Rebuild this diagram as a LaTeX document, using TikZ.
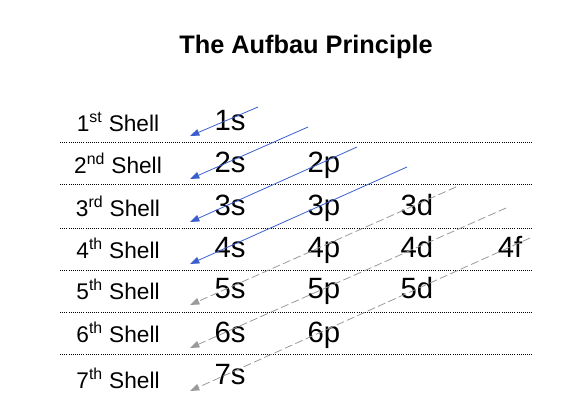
\documentclass[tikz,border=0pt]{standalone}
\usepackage{fontspec}
\setmainfont{Liberation Sans}
\usetikzlibrary{arrows.meta}
\definecolor{fillblue}{HTML}{3A5FCD}
\definecolor{fillgray}{HTML}{9A9A9A}
\begin{document}
\begin{tikzpicture}[
      x=0.75pt,
      y=-0.75pt,
      shell/.style={anchor=base, font=\fontsize{17}{20}\selectfont},
      orb/.style={anchor=base, font=\fontsize{22}{26}\selectfont},
      sep/.style={densely dotted, line width=0.6pt},
      fillarrow/.style={fillblue, line width=0.6pt, -{Triangle[length=7pt,width=5pt]}},
      emptyarrow/.style={fillgray, line width=0.6pt, dash pattern=on 6pt off 2.5pt, -{Triangle[length=7pt,width=5pt]}}]
    \useasboundingbox (0,0) rectangle (579,408);

    \node [font=\bfseries\fontsize{19}{23}\selectfont] (title) at (306,47) {The Aufbau Principle};

    \node [shell] (shell1) at (118,131) {1\textsuperscript{st} Shell};
    \node [shell] (shell2) at (118,173) {2\textsuperscript{nd} Shell};
    \node [shell] (shell3) at (118,216) {3\textsuperscript{rd} Shell};
    \node [shell] (shell4) at (118,258) {4\textsuperscript{th} Shell};
    \node [shell] (shell5) at (118,299) {5\textsuperscript{th} Shell};
    \node [shell] (shell6) at (118,342) {6\textsuperscript{th} Shell};
    \node [shell] (shell7) at (118,388) {7\textsuperscript{th} Shell};

    \node [orb] (o1s) at (230,130) {1s};
    \node [orb] (o2s) at (230,172) {2s};
    \node [orb] (o2p) at (324,172) {2p};
    \node [orb] (o3s) at (230,215) {3s};
    \node [orb] (o3p) at (324,215) {3p};
    \node [orb] (o3d) at (417,215) {3d};
    \node [orb] (o4s) at (230,257) {4s};
    \node [orb] (o4p) at (324,257) {4p};
    \node [orb] (o4d) at (417,257) {4d};
    \node [orb] (o4f) at (510,257) {4f};
    \node [orb] (o5s) at (230,298) {5s};
    \node [orb] (o5p) at (324,298) {5p};
    \node [orb] (o5d) at (417,298) {5d};
    \node [orb] (o6s) at (230,342) {6s};
    \node [orb] (o6p) at (324,342) {6p};
    \node [orb] (o7s) at (230,384) {7s};

    \foreach \y in {142,184,228,270,312,354}
      \draw [sep] (60,\y) -- (533,\y);

    % filling order
    \coordinate (from1) at (258,107);  \coordinate (to1) at (190,136);
    \coordinate (from2) at (308,127);  \coordinate (to2) at (190,179);
    \coordinate (from3) at (357,147);  \coordinate (to3) at (190,222);
    \coordinate (from4) at (407,167);  \coordinate (to4) at (190,264);
    \coordinate (from5) at (456,187);  \coordinate (to5) at (190,305);
    \coordinate (from6) at (506,208);  \coordinate (to6) at (190,348);
    \coordinate (from7) at (530,238);  \coordinate (to7) at (190,391);

    \draw [fillarrow] (from1) -- (to1);
    \draw [fillarrow] (from2) -- (to2);
    \draw [fillarrow] (from3) -- (to3);
    \draw [fillarrow] (from4) -- (to4);
    \draw [emptyarrow] (from5) -- (to5);
    \draw [emptyarrow] (from6) -- (to6);
    \draw [emptyarrow] (from7) -- (to7);

  \end{tikzpicture}
\end{document}
